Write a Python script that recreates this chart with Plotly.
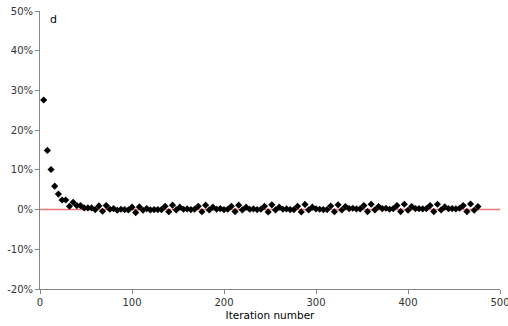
import plotly.graph_objects as go

# Iteration numbers (every 4 iterations)
iterations = [4 * k for k in range(1, 120)]

# Relative change (%)
values = [
    27.6, 14.9, 10.1, 5.9, 3.9, 2.4, 2.4, 0.84, 1.85, 1.0,
    1.0, 0.42, 0.42, 0.42, 0.0, 0.92, -0.42, 1.0, 0.08, 0.25,
    -0.17, 0.08, 0.0, -0.08, 0.6, -0.75, 0.67, -0.17, 0.25, -0.08,
    0.0, 0.0, 0.0, 0.84, -0.55, 1.1, -0.08, 0.6, 0.08, 0.17,
    0.0, 0.08, 0.84, -0.55, 1.1, -0.08, 0.6, 0.08, 0.25, 0.0,
    0.08, 0.84, -0.5, 1.1, -0.08, 0.6, 0.08, 0.17, 0.0, 0.08,
    0.84, -0.6, 1.2, -0.08, 0.6, 0.08, 0.17, 0.0, 0.0, 0.84,
    -0.6, 1.3, -0.08, 0.6, 0.17, 0.08, 0.0, 0.0, 0.9, -0.55,
    1.2, -0.1, 0.75, 0.25, 0.34, 0.17, 0.17, 1.0, -0.5, 1.34,
    -0.08, 0.75, 0.25, 0.34, 0.08, 0.25, 1.0, -0.5, 1.34, -0.17,
    0.75, 0.25, 0.25, 0.17, 0.25, 1.0, -0.5, 1.34, -0.08, 0.67,
    0.25, 0.25, 0.17, 0.34, 1.0, -0.5, 1.4, -0.17, 0.75,
]

ref_x = [0, 500]
ref_y = [0, 0]

y_ticks = [-20, -10, 0, 10, 20, 30, 40, 50]
y_tick_labels = ["-20%", "-10%", "0%", "10%", "20%", "30%", "40%", "50%"]
x_ticks = [0, 100, 200, 300, 400, 500]

fig = go.Figure()
fig.add_trace(go.Scatter(
    x=ref_x, y=ref_y, mode="lines",
    line=dict(color="#f07a7a", width=1.5),
    hoverinfo="skip", showlegend=False,
))
fig.add_trace(go.Scatter(
    x=iterations, y=values, mode="markers",
    marker=dict(symbol="diamond", size=5.5, color="black"),
    showlegend=False,
))

axis_common = dict(
    showgrid=False, zeroline=False, showline=True,
    linecolor="#888888", linewidth=1,
    ticks="outside", ticklen=4, tickcolor="#888888",
    tickfont=dict(family="DejaVu Sans", size=10, color="#333333"),
    automargin=False, ticklabeloverflow="allow",
)

fig.update_xaxes(
    range=[0, 500], tickvals=x_ticks,
    title=dict(text="Iteration number", standoff=4,
               font=dict(family="DejaVu Sans", size=10.5, color="black")),
    **axis_common,
)
fig.update_yaxes(
    range=[-20, 50], tickvals=y_ticks, ticktext=y_tick_labels,
    **axis_common,
)

fig.add_annotation(
    text="d", x=0.018, y=1.0, xref="paper", yref="paper",
    xanchor="left", yanchor="top", showarrow=False,
    font=dict(family="DejaVu Sans", size=11, color="black"),
)

fig.update_layout(
    width=508, height=326,
    margin=dict(l=40, r=8, t=11, b=37),
    plot_bgcolor="white", paper_bgcolor="white",
)

fig.write_html(
    "out.html",
    config={"displayModeBar": False},
    post_script="document.body.style.margin='0';document.body.style.overflow='hidden';",
)
